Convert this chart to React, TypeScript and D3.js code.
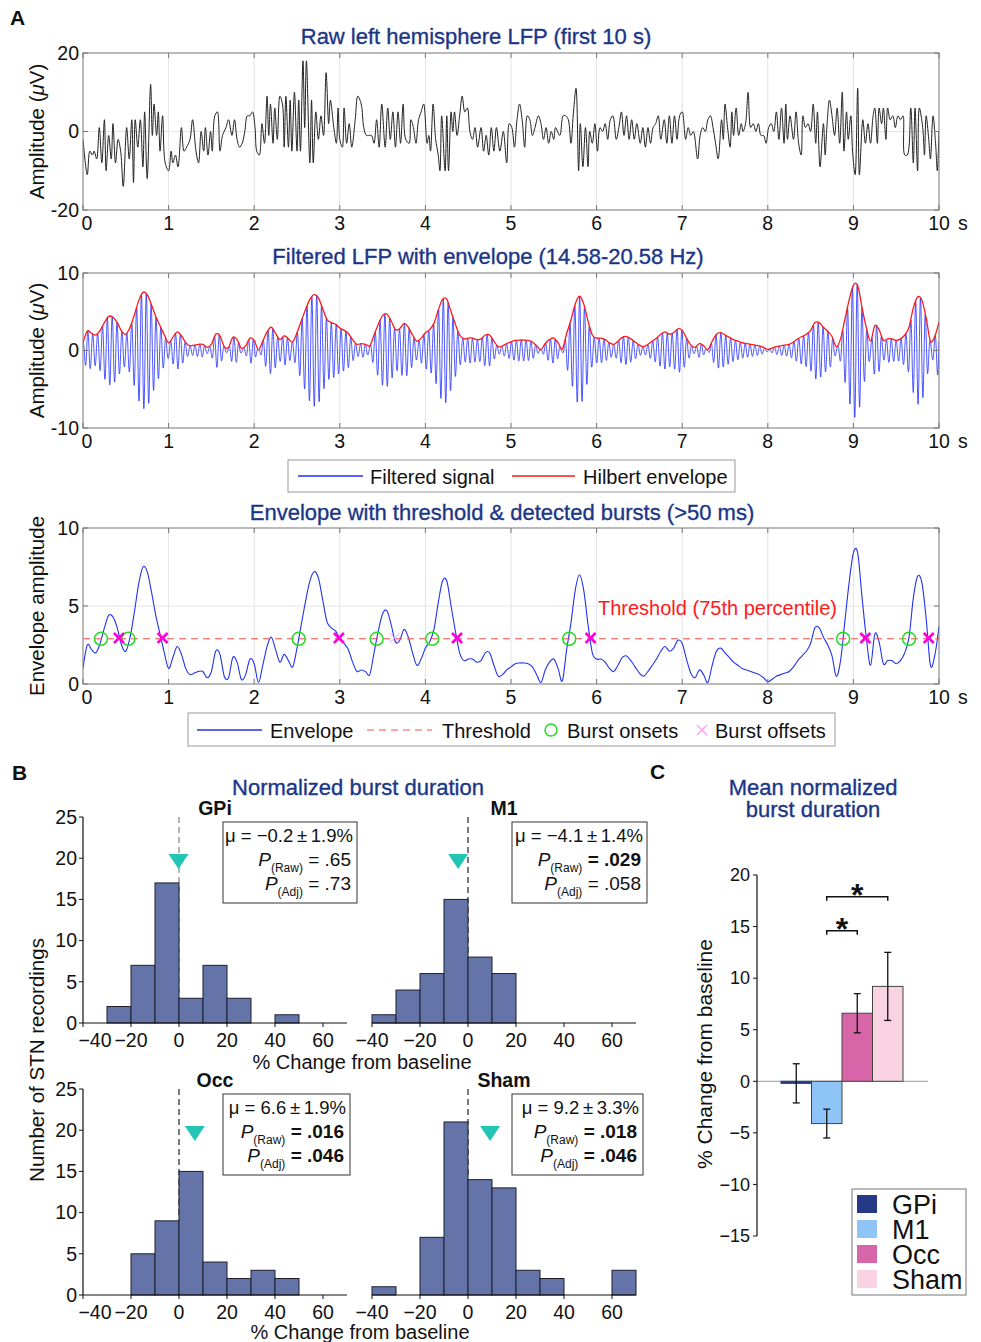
import React from "react";
import * as d3 from "d3";

const FONT = '"Liberation Sans", Arial, Helvetica, sans-serif';
const NAVY = "#1b3687";

// ---------------- Panel A data ----------------
const timeTicks = [0, 1, 2, 3, 4, 5, 6, 7, 8, 9, 10];

// Raw LFP, [time s, amplitude µV] (extrema)
const rawLFP: [number, number][] = [
  [0.0, -2], [0.05, -11], [0.08, -5], [0.11, -6], [0.13, -5], [0.16, -7], [0.19, 1], [0.22, -8], [0.25, 3], [0.27, -10],
  [0.3, -1], [0.33, -7], [0.35, 2], [0.38, -8], [0.41, -2], [0.44, -5], [0.47, -14], [0.51, 1], [0.54, -7], [0.57, 3],
  [0.59, -13], [0.61, 3], [0.64, -4], [0.67, 3], [0.7, -9], [0.72, 5], [0.75, -12], [0.79, 12], [0.81, -1], [0.83, 7],
  [0.86, -1], [0.88, 5], [0.9, -5], [0.93, 4], [0.96, -8], [1.0, -10], [1.03, -5], [1.05, -8], [1.08, -6], [1.11, -9],
  [1.15, 1], [1.18, -5], [1.21, -4], [1.25, -2], [1.28, 3], [1.32, -5], [1.35, -8], [1.38, 0], [1.41, -5], [1.43, 1],
  [1.46, -6], [1.49, 0], [1.51, -5], [1.54, 4], [1.57, 5], [1.6, -5], [1.63, -1], [1.67, 1], [1.7, 3], [1.74, -1],
  [1.77, 3], [1.8, -2], [1.83, -4], [1.86, -3], [1.89, 0], [1.92, 4], [1.95, 4], [1.98, 5], [2.01, 1], [2.03, -5],
  [2.06, -6], [2.09, 2], [2.12, -3], [2.15, 9], [2.17, -1], [2.19, 7], [2.22, -3], [2.24, 6], [2.27, -2], [2.3, 9],
  [2.33, 7], [2.35, -4], [2.37, 9], [2.4, -4], [2.42, 8], [2.44, -5], [2.47, 10], [2.5, -5], [2.52, 8], [2.54, -5],
  [2.57, 18], [2.59, 1], [2.61, 18], [2.65, -8], [2.67, 8], [2.69, -8], [2.72, 5], [2.75, -2], [2.78, 4], [2.81, -1],
  [2.84, 15], [2.87, 2], [2.89, 8], [2.93, 1], [2.96, -3], [2.98, 6], [3.0, -2], [3.03, -4], [3.05, 6], [3.08, -3],
  [3.11, 2], [3.14, -4], [3.18, 3], [3.21, 9], [3.25, 7], [3.28, 1], [3.31, -1], [3.34, -1], [3.37, -1], [3.4, -3],
  [3.43, 3], [3.46, -4], [3.49, 7], [3.53, -4], [3.56, 6], [3.59, -2], [3.62, 5], [3.65, -4], [3.68, 5], [3.71, -3],
  [3.74, 7], [3.77, -2], [3.81, -3], [3.83, 3], [3.86, 1], [3.89, -3], [3.92, 3], [3.95, 5], [3.98, 7], [4.02, -3],
  [4.04, -1], [4.06, -5], [4.09, 7], [4.12, -2], [4.15, -6], [4.17, -10], [4.19, 4], [4.23, -10], [4.25, 4], [4.27, -10],
  [4.3, 5], [4.32, 0], [4.34, 5], [4.37, -1], [4.4, 4], [4.43, 9], [4.46, 5], [4.49, 6], [4.52, 0], [4.55, -2],
  [4.58, 1], [4.61, -4], [4.65, 1], [4.68, -5], [4.71, -1], [4.74, -6], [4.77, 1], [4.8, -5], [4.83, 1], [4.87, -5],
  [4.91, 0], [4.95, -8], [4.98, 2], [5.01, 1], [5.04, -4], [5.07, 3], [5.1, 7], [5.13, 3], [5.16, -4], [5.19, 4],
  [5.22, 3], [5.25, -1], [5.28, 1], [5.32, 4], [5.35, 2], [5.38, -2], [5.41, 1], [5.44, -3], [5.47, 0], [5.5, -2],
  [5.52, 1], [5.57, -1], [5.61, 4], [5.64, 4], [5.67, 3], [5.7, -3], [5.73, 5], [5.76, 11], [5.79, -10], [5.81, 2],
  [5.84, -9], [5.87, 1], [5.9, -9], [5.92, 0], [5.95, -3], [5.98, 2], [6.01, -5], [6.04, 1], [6.07, 0], [6.1, 2],
  [6.13, -2], [6.16, 3], [6.19, 4], [6.23, -2], [6.26, 1], [6.29, 5], [6.32, -1], [6.35, 4], [6.38, -2], [6.41, 3],
  [6.44, -2], [6.47, 2], [6.51, -3], [6.54, 1], [6.57, -4], [6.6, 1], [6.63, -3], [6.66, 1], [6.69, 2], [6.72, 4],
  [6.75, -2], [6.79, 3], [6.82, -3], [6.85, 4], [6.88, -3], [6.91, 4], [6.94, -2], [6.97, 4], [7.0, 5], [7.04, -2],
  [7.07, 1], [7.1, -1], [7.13, 0], [7.18, -7], [7.21, -1], [7.24, 1], [7.27, 0], [7.3, 3], [7.33, 4], [7.36, 1],
  [7.39, -3], [7.42, -7], [7.46, 3], [7.48, -2], [7.5, 7], [7.53, 1], [7.56, -4], [7.58, 5], [7.6, -1], [7.63, 6],
  [7.66, -1], [7.69, 2], [7.71, 0], [7.74, 2], [7.77, 10], [7.8, 1], [7.83, 2], [7.86, 0], [7.89, 2], [7.92, -1],
  [7.95, -1], [7.98, -3], [8.01, 1], [8.04, 2], [8.07, 0], [8.1, 5], [8.13, -2], [8.16, 6], [8.19, -3], [8.21, 7],
  [8.23, -2], [8.26, 4], [8.3, -2], [8.33, 5], [8.36, -3], [8.39, -6], [8.41, 4], [8.44, 1], [8.47, 2], [8.5, 0],
  [8.53, 7], [8.56, -3], [8.58, 5], [8.61, -9], [8.65, 2], [8.67, -6], [8.69, 1], [8.72, 8], [8.75, 4], [8.78, -1],
  [8.81, 6], [8.84, -3], [8.87, 10], [8.89, -5], [8.92, 5], [8.94, -2], [8.97, 4], [8.99, -5], [9.02, -11], [9.05, 11],
  [9.07, -11], [9.11, 3], [9.14, -3], [9.17, 2], [9.2, -3], [9.23, 4], [9.25, 6], [9.28, -3], [9.3, 6], [9.33, 2],
  [9.35, 6], [9.38, -2], [9.4, 6], [9.43, 3], [9.46, 4], [9.49, 1], [9.52, 4], [9.55, 3], [9.58, 4], [9.6, -6],
  [9.63, -6], [9.67, 6], [9.7, -8], [9.72, 6], [9.75, -10], [9.77, 6], [9.81, 1], [9.83, -6], [9.85, 4], [9.88, -2],
  [9.9, -7], [9.93, 4], [9.96, -3], [9.98, -10], [10.0, 0],
];

// Hilbert envelope, sampled every 50 ms from 0 to 10 s
const ENV_DT = 0.05;
const envelope: number[] = [
  1.0, 2.5, 2.2, 2.0, 2.6, 3.6, 4.4, 4.3, 3.6, 2.5,
  2.1, 3.0, 4.6, 6.4, 7.5, 7.2, 5.9, 4.4, 3.2, 2.0,
  1.0, 1.7, 2.4, 1.9, 1.0, 0.6, 0.7, 0.8, 0.8, 0.4,
  0.8, 2.1, 1.9, 0.5, 0.4, 1.7, 1.4, 0.3, 0.6, 1.6,
  1.3, 0.1, 1.2, 2.4, 3.0, 2.2, 1.4, 1.9, 1.5, 1.1,
  2.3, 3.8, 5.3, 6.6, 7.2, 6.8, 5.4, 4.0, 3.6, 3.4,
  2.9, 2.6, 2.2, 1.4, 0.8, 0.9, 0.8, 0.6, 2.0, 3.4,
  4.5, 4.7, 3.8, 2.7, 2.8, 3.5, 3.0, 2.0, 1.2, 1.6,
  2.3, 2.7, 3.5, 5.2, 6.6, 6.6, 5.0, 3.4, 2.0, 1.5,
  1.6, 1.6, 1.4, 1.5, 2.0, 2.0, 1.2, 0.5, 0.6, 0.9,
  1.1, 1.3, 1.35, 1.35, 1.3, 1.1, 0.6, 0.1, 0.9, 1.4,
  1.6, 1.0, 0.2, 2.2, 3.9, 6.0, 7.0, 6.0, 3.8, 2.0,
  1.6, 1.6, 1.4, 1.0, 0.8, 1.2, 1.7, 1.8, 1.5, 1.1,
  0.7, 0.5, 0.8, 1.2, 1.6, 2.1, 2.4, 2.1, 2.3, 2.8,
  2.6, 1.6, 0.7, 0.4, 0.9, 0.6, 0.1, 1.2, 2.1, 2.3,
  2.0, 1.7, 1.4, 1.2, 1.0, 0.9, 0.8, 0.7, 0.6, 0.4,
  0.15, 0.3, 0.5, 0.6, 0.7, 0.8, 1.1, 1.5, 1.8, 2.1,
  2.6, 3.6, 3.6, 3.0, 2.5, 1.8, 0.5, 1.5, 4.0, 6.5,
  8.4, 8.4, 5.6, 3.0, 1.2, 3.2, 2.7, 1.3, 1.5, 1.5,
  1.3, 1.5, 2.0, 3.0, 5.5, 6.9, 6.5, 4.2, 1.2, 1.8,
  3.7,
];
const CARRIER_HZ = 17.58; // centre of the 14.58-20.58 Hz band
const threshold = 2.9;
const burstOnsets = [0.21, 0.53, 2.52, 3.43, 4.08, 5.68, 8.88, 9.65];
const burstOffsets = [0.42, 0.93, 2.99, 3.64, 4.37, 5.93, 9.14, 9.88];
const faintOffsets = [3.64];

// ---------------- Panel B data ----------------
const binStarts = [-40, -30, -20, -10, 0, 10, 20, 30, 40, 50, 60];
const binWidth = 10;
const histXTicks = [-40, -20, 0, 20, 40, 60];
const histYTicks = [0, 5, 10, 15, 20, 25];
const regions = ["GPi", "M1", "Occ", "Sham"];
const histGPi = [0, 2, 7, 17, 3, 7, 3, 0, 1, 0, 0];
const histM1 = [1, 4, 6, 15, 8, 6, 0, 0, 0, 0, 0];
const histOcc = [0, 0, 5, 9, 15, 4, 2, 3, 2, 0, 0];
const histSham = [1, 0, 7, 21, 14, 13, 3, 2, 0, 0, 3];
const meanChange = [-0.2, -4.1, 6.6, 9.2];
const semChange = [1.9, 1.4, 1.9, 3.3];
const pRaw = [".65", ".029", ".016", ".018"];
const pAdj = [".73", ".058", ".046", ".046"];
const pRawSig = [false, true, true, true];
const pAdjSig = [false, false, true, true];

// ---------------- Panel C data ----------------
const barColors = ["#243a86", "#8fc5f6", "#d766a9", "#f9d3e1"];
const barYTicks = [-15, -10, -5, 0, 5, 10, 15, 20];
const sigPairs = [
  { a: "M1", b: "Occ", level: 14.6 },
  { a: "M1", b: "Sham", level: 17.9 },
];

const minus = (v: number) => (v < 0 ? "\u2212" + Math.abs(v) : String(v));

function envAt(t: number) {
  const f = t / ENV_DT;
  const i = Math.floor(f);
  const u = f - i;
  const g = (k: number) => envelope[Math.max(0, Math.min(envelope.length - 1, k))];
  const p0 = g(i - 1), p1 = g(i), p2 = g(i + 1), p3 = g(i + 2);
  const v =
    0.5 *
    (2 * p1 +
      (-p0 + p2) * u +
      (2 * p0 - 5 * p1 + 4 * p2 - p3) * u * u +
      (-p0 + 3 * p1 - 3 * p2 + p3) * u * u * u);
  return Math.max(0, v);
}

type TP = {
  id: string;
  top: number;
  bottom: number;
  yDomain: [number, number];
  yTicks: number[];
  gridY: number[];
  title: string;
  titleX: number;
  titleY: number;
  ylabel: React.ReactNode;
  children: (x: d3.ScaleLinear<number, number>, y: d3.ScaleLinear<number, number>) => React.ReactNode;
};

const X0 = 83, X1 = 939;

function Title(props: { x: number; y: number; children: React.ReactNode }) {
  return (
    <text
      x={props.x}
      y={props.y}
      textAnchor="middle"
      fontSize={22}
      fill={NAVY}
      stroke={NAVY}
      strokeWidth={0.35}
    >
      {props.children}
    </text>
  );
}

function TimePanel(p: TP) {
  const x = d3.scaleLinear().domain([0, 10]).range([X0, X1]);
  const y = d3.scaleLinear().domain(p.yDomain).range([p.bottom, p.top]);
  const tk = 5;
  return (
    <g>
      <defs>
        <clipPath id={p.id}>
          <rect x={X0} y={p.top} width={X1 - X0} height={p.bottom - p.top} />
        </clipPath>
      </defs>
      <rect x={X0} y={p.top} width={X1 - X0} height={p.bottom - p.top} fill="#fff" />
      {timeTicks.slice(1, -1).map((t) => (
        <line key={"gx" + t} x1={x(t)} x2={x(t)} y1={p.top} y2={p.bottom} stroke="#e4e4e4" strokeWidth={1} />
      ))}
      {p.gridY.map((v) => (
        <line key={"gy" + v} x1={X0} x2={X1} y1={y(v)} y2={y(v)} stroke="#e4e4e4" strokeWidth={1} />
      ))}
      <g clipPath={`url(#${p.id})`}>{p.children(x, y)}</g>
      <rect x={X0} y={p.top} width={X1 - X0} height={p.bottom - p.top} fill="none" stroke="#777" strokeWidth={1} />
      {timeTicks.map((t) => (
        <g key={"tx" + t}>
          <line x1={x(t)} x2={x(t)} y1={p.bottom} y2={p.bottom - tk} stroke="#777" />
          <line x1={x(t)} x2={x(t)} y1={p.top} y2={p.top + tk} stroke="#777" />
          <text
            x={x(t) + (t === 0 ? 4 : 0)}
            y={p.bottom + 20}
            textAnchor="middle"
            fontSize={19.5}
            fill="#111"
          >
            {t}
          </text>
        </g>
      ))}
      <text x={x(10) + 19} y={p.bottom + 20} fontSize={19.5} fill="#111">
        s
      </text>
      {p.yTicks.map((v) => (
        <g key={"ty" + v}>
          <line x1={X0} x2={X0 + tk} y1={y(v)} y2={y(v)} stroke="#777" />
          <line x1={X1} x2={X1 - tk} y1={y(v)} y2={y(v)} stroke="#777" />
          <text x={X0 - 4} y={y(v)} dy="0.35em" textAnchor="end" fontSize={19.5} fill="#111">
            {v}
          </text>
        </g>
      ))}
      <Title x={p.titleX} y={p.titleY}>{p.title}</Title>
      <text
        transform={`translate(44,${(p.top + p.bottom) / 2}) rotate(-90)`}
        textAnchor="middle"
        fontSize={20.5}
        fill="#111"
      >
        {p.ylabel}
      </text>
    </g>
  );
}

type HP = {
  left: number;
  base: number;
  idx: number;
  counts: number[];
  showY: boolean;
  boxW: number;
  dashColor: string;
};

function HistPanel(p: HP) {
  const x = d3.scaleLinear().domain([-40, 70]).range([p.left, p.left + 264]);
  const y = d3.scaleLinear().domain([0, 25]).range([p.base, p.base - 206]);
  const mean = meanChange[p.idx];
  const apexY = y(18.7);
  const mx = x(mean);
  const boxX = p.left + 140;
  const boxY = p.base - 201;
  const boxR = boxX + p.boxW;
  const tri = `M${mx - 10},${apexY - 15} L${mx + 10},${apexY - 15} L${mx},${apexY} Z`;
  return (
    <g>
      <line x1={x(0)} x2={x(0)} y1={y(25)} y2={p.base} stroke={p.dashColor} strokeWidth={1.3} strokeDasharray="6,4" />
      {p.counts.map((c, i) =>
        c > 0 ? (
          <rect
            key={i}
            x={x(binStarts[i])}
            y={y(c)}
            width={x(binStarts[i] + binWidth) - x(binStarts[i])}
            height={p.base - y(c)}
            fill="#6474a8"
            stroke="#1d1f2e"
            strokeWidth={1}
          />
        ) : null
      )}
      <path d={tri} fill="#22c4b4" />
      <line x1={x(-40)} x2={x(70)} y1={p.base} y2={p.base} stroke="#111" strokeWidth={1.2} />
      {histXTicks.map((v) => (
        <g key={v}>
          <line x1={x(v)} x2={x(v)} y1={p.base} y2={p.base + 4} stroke="#111" />
          <text
            x={x(v) + (p.showY && v === -40 ? 12 : 0)}
            y={p.base + 24}
            textAnchor="middle"
            fontSize={19.5}
            fill="#111"
          >
            {minus(v)}
          </text>
        </g>
      ))}
      {p.showY && (
        <g>
          <line x1={p.left} x2={p.left} y1={y(0)} y2={y(25)} stroke="#111" strokeWidth={1.2} />
          {histYTicks.map((v) => (
            <g key={v}>
              <line x1={p.left - 4} x2={p.left} y1={y(v)} y2={y(v)} stroke="#111" />
              <text x={p.left - 6} y={y(v)} dy="0.35em" textAnchor="end" fontSize={19.5} fill="#111">
                {v}
              </text>
            </g>
          ))}
        </g>
      )}
      <text x={x(15)} y={p.base - 208} textAnchor="middle" fontSize={19.5} fontWeight="bold" fill="#111">
        {regions[p.idx]}
      </text>
      <rect x={boxX} y={boxY} width={p.boxW} height={81} fill="#fff" stroke="#333" strokeWidth={1} />
      <text x={boxR - 4} y={boxY + 20} textAnchor="end" fontSize={18.5} fill="#111">
        {`\u03bc = ${minus(mean)}\u2009\u00b1\u2009${semChange[p.idx]}%`}
      </text>
      <text x={boxR - 6} y={boxY + 44} textAnchor="end" fontSize={19} fill="#111">
        <tspan fontStyle="italic">P</tspan>
        <tspan fontSize={12} dy={6}>(Raw)</tspan>
        <tspan dy={-6} fontWeight={pRawSig[p.idx] ? "bold" : "normal"}>{` = ${pRaw[p.idx]}`}</tspan>
      </text>
      <text x={boxR - 6} y={boxY + 68} textAnchor="end" fontSize={19} fill="#111">
        <tspan fontStyle="italic">P</tspan>
        <tspan fontSize={12} dy={6}>(Adj)</tspan>
        <tspan dy={-6} fontWeight={pAdjSig[p.idx] ? "bold" : "normal"}>{` = ${pAdj[p.idx]}`}</tspan>
      </text>
    </g>
  );
}

export default function App() {
  const filtered: [number, number][] = d3
    .range(0, 10.0001, 0.002)
    .map((t) => [t, envAt(t) * Math.cos(2 * Math.PI * CARRIER_HZ * t)]);
  const envPts: [number, number][] = envelope.map((v, i) => [i * ENV_DT, v]);

  // panel C scales
  const yC = d3.scaleLinear().domain([-15, 20]).range([1236, 875]);
  const xC = d3.scaleBand<string>().domain(regions).range([781, 903]).padding(0);
  const cx = (r: string) => (xC(r) as number) + xC.bandwidth() / 2;

  return (
    <svg
      width={981}
      height={1342}
      style={{ position: "absolute", left: 0, top: 0, display: "block", background: "#fff" }}
      fontFamily={FONT}
    >
      <rect x={0} y={0} width={981} height={1342} fill="#fff" />
      {/* Panel letters */}
      <text x={10} y={25} fontSize={21} fontWeight="bold" fill="#111">A</text>
      <text x={12} y={780} fontSize={21} fontWeight="bold" fill="#111">B</text>
      <text x={650} y={779} fontSize={21} fontWeight="bold" fill="#111">C</text>

      {/* A1 raw */}
      <TimePanel
        id="cA1"
        top={53}
        bottom={210}
        yDomain={[-20, 20]}
        yTicks={[-20, 0, 20]}
        gridY={[0]}
        title="Raw left hemisphere LFP (first 10 s)"
        titleX={476}
        titleY={44}
        ylabel={
          <>
            Amplitude (<tspan fontStyle="italic">{"\u03bc"}</tspan>V)
          </>
        }
      >
        {(x, y) => (
          <path
            d={d3.line<[number, number]>().x((d) => x(d[0])).y((d) => y(d[1])).curve(d3.curveCatmullRom)(rawLFP) || ""}
            fill="none"
            stroke="#222"
            strokeWidth={1}
          />
        )}
      </TimePanel>

      {/* A2 filtered */}
      <TimePanel
        id="cA2"
        top={273}
        bottom={428}
        yDomain={[-10, 10]}
        yTicks={[-10, 0, 10]}
        gridY={[0]}
        title="Filtered LFP with envelope (14.58-20.58 Hz)"
        titleX={488}
        titleY={264}
        ylabel={
          <>
            Amplitude (<tspan fontStyle="italic">{"\u03bc"}</tspan>V)
          </>
        }
      >
        {(x, y) => (
          <g>
            <path
              d={d3.line<[number, number]>().x((d) => x(d[0])).y((d) => y(d[1]))(filtered) || ""}
              fill="none"
              stroke="#1f2cff"
              strokeWidth={0.8}
            />
            <path
              d={d3.line<[number, number]>().x((d) => x(d[0])).y((d) => y(d[1])).curve(d3.curveCardinal.tension(0))(envPts) || ""}
              fill="none"
              stroke="#ff1a1a"
              strokeWidth={1.3}
            />
          </g>
        )}
      </TimePanel>
      {/* A2 legend */}
      <g>
        <rect x={288} y={460} width={447} height={32} fill="#fff" stroke="#999" />
        <line x1={298} x2={363} y1={476} y2={476} stroke="#1f2cff" strokeWidth={1.3} />
        <text x={370} y={484} fontSize={20} fill="#111">Filtered signal</text>
        <line x1={512} x2={575} y1={476} y2={476} stroke="#ff1a1a" strokeWidth={1.3} />
        <text x={583} y={484} fontSize={20} fill="#111">Hilbert envelope</text>
      </g>

      {/* A3 envelope + threshold */}
      <TimePanel
        id="cA3"
        top={528}
        bottom={684}
        yDomain={[0, 10]}
        yTicks={[0, 5, 10]}
        gridY={[5]}
        title="Envelope with threshold & detected bursts (>50 ms)"
        titleX={502}
        titleY={520}
        ylabel="Envelope amplitude"
      >
        {(x, y) => (
          <g>
            <path
              d={d3.line<[number, number]>().x((d) => x(d[0])).y((d) => y(d[1])).curve(d3.curveCardinal.tension(0))(envPts) || ""}
              fill="none"
              stroke="#2233ee"
              strokeWidth={1.1}
            />
            <line x1={x(0)} x2={x(10)} y1={y(threshold)} y2={y(threshold)} stroke="#ff4d4d" strokeWidth={1} strokeDasharray="7,5" />
            {burstOnsets.map((t) => (
              <circle key={"on" + t} cx={x(t)} cy={y(threshold)} r={6.5} fill="none" stroke="#22dd22" strokeWidth={1.5} />
            ))}
            {burstOffsets.map((t) => {
              const faint = faintOffsets.includes(t);
              const cxp = x(t), cyp = y(threshold + 0.05), s = 5;
              return (
                <g key={"off" + t} stroke={faint ? "#ff9cf0" : "#ff00dd"} strokeWidth={faint ? 1 : 2.6}>
                  <line x1={cxp - s} x2={cxp + s} y1={cyp - s} y2={cyp + s} />
                  <line x1={cxp - s} x2={cxp + s} y1={cyp + s} y2={cyp - s} />
                </g>
              );
            })}
            <text x={598} y={615} fontSize={20} fill="#ff1a1a">Threshold (75th percentile)</text>
          </g>
        )}
      </TimePanel>
      {/* A3 legend */}
      <g>
        <rect x={188} y={713} width={647} height={33} fill="#fff" stroke="#999" />
        <line x1={197} x2={262} y1={730} y2={730} stroke="#2233ee" strokeWidth={1.3} />
        <text x={270} y={738} fontSize={20} fill="#111">Envelope</text>
        <line x1={367} x2={432} y1={730} y2={730} stroke="#ff4d4d" strokeWidth={1.2} strokeDasharray="7,5" />
        <text x={442} y={738} fontSize={20} fill="#111">Threshold</text>
        <circle cx={551} cy={730} r={6} fill="none" stroke="#22dd22" strokeWidth={1.5} />
        <text x={567} y={738} fontSize={20} fill="#111">Burst onsets</text>
        <g stroke="#ff9cf0" strokeWidth={1.2}>
          <line x1={697} x2={707} y1={725} y2={735} />
          <line x1={697} x2={707} y1={735} y2={725} />
        </g>
        <text x={715} y={738} fontSize={20} fill="#111">Burst offsets</text>
      </g>

      {/* Panel B */}
      <Title x={358} y={795}>Normalized burst duration</Title>
      <HistPanel left={83} base={1023} idx={0} counts={histGPi} showY boxW={134} dashColor="#8a8a8a" />
      <HistPanel left={372} base={1023} idx={1} counts={histM1} showY={false} boxW={135} dashColor="#333" />
      <HistPanel left={83} base={1295} idx={2} counts={histOcc} showY boxW={127} dashColor="#333" />
      <HistPanel left={372} base={1295} idx={3} counts={histSham} showY={false} boxW={131} dashColor="#333" />
      <text x={362} y={1069} textAnchor="middle" fontSize={20} fill="#111">% Change from baseline</text>
      <text x={360} y={1339} textAnchor="middle" fontSize={20} fill="#111">% Change from baseline</text>
      <text transform="translate(44,1060) rotate(-90)" textAnchor="middle" fontSize={20.5} fill="#111">
        Number of STN recordings
      </text>

      {/* Panel C */}
      <Title x={813} y={795}>Mean normalized</Title>
      <Title x={813} y={817}>burst duration</Title>
      <line x1={757} x2={928} y1={yC(0)} y2={yC(0)} stroke="#999" strokeWidth={1} />
      {regions.map((r, i) => {
        const v = meanChange[i];
        const y0 = yC(Math.max(0, v));
        const y1 = yC(Math.min(0, v));
        return (
          <rect
            key={r}
            x={xC(r)}
            y={y0}
            width={xC.bandwidth()}
            height={Math.max(2, y1 - y0)}
            fill={barColors[i]}
            stroke={i === 0 ? barColors[0] : "#444"}
            strokeWidth={1}
          />
        );
      })}
      {regions.map((r, i) => {
        const v = meanChange[i], e = semChange[i];
        const c = cx(r);
        return (
          <g key={"e" + r} stroke="#111" strokeWidth={1.3}>
            <line x1={c} x2={c} y1={yC(v + e)} y2={yC(v - e)} />
            <line x1={c - 3.5} x2={c + 3.5} y1={yC(v + e)} y2={yC(v + e)} />
            <line x1={c - 3.5} x2={c + 3.5} y1={yC(v - e)} y2={yC(v - e)} />
          </g>
        );
      })}
      {sigPairs.map((s) => {
        const xa = cx(s.a), xb = cx(s.b), yy = yC(s.level);
        return (
          <g key={s.a + s.b}>
            <path d={`M${xa},${yy + 4} L${xa},${yy} L${xb},${yy} L${xb},${yy + 4}`} fill="none" stroke="#111" strokeWidth={1.5} />
            <text x={(xa + xb) / 2} y={yy + 9} textAnchor="middle" fontSize={32} fontWeight="bold" fill="#111">*</text>
          </g>
        );
      })}
      <line x1={757} x2={757} y1={yC(-15)} y2={yC(20)} stroke="#111" strokeWidth={1.2} />
      {barYTicks.map((v) => (
        <g key={"cy" + v}>
          <line x1={753} x2={757} y1={yC(v)} y2={yC(v)} stroke="#111" />
          <text x={750} y={yC(v)} dy="0.35em" textAnchor="end" fontSize={18} fill="#111">
            {minus(v)}
          </text>
        </g>
      ))}
      <text transform="translate(712,1054) rotate(-90)" textAnchor="middle" fontSize={21} fill="#111">
        % Change from baseline
      </text>
      <rect x={852} y={1189} width={114} height={106} fill="#fff" stroke="#777" />
      {regions.map((r, i) => (
        <g key={"lg" + r}>
          <rect x={857} y={1195 + i * 25} width={20} height={18} fill={barColors[i]} />
          <text x={892} y={1214 + i * 25} fontSize={27} fill="#111">{r}</text>
        </g>
      ))}
    </svg>
  );
}
